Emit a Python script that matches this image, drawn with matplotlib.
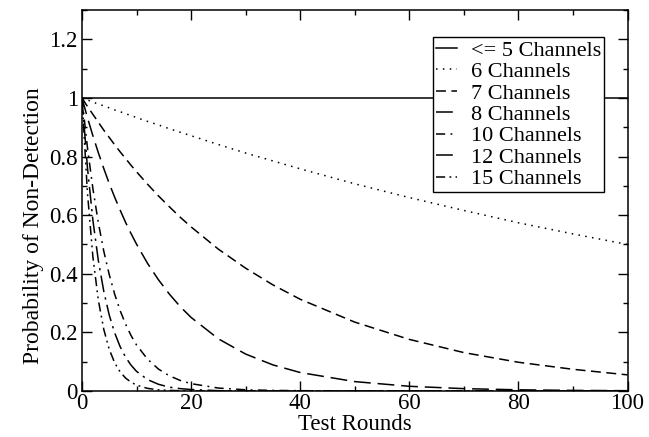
import matplotlib
matplotlib.use("Agg")
import matplotlib.pyplot as plt
from matplotlib.ticker import MultipleLocator

plt.rcParams['font.family'] = ['Liberation Serif', 'DejaVu Serif']

rounds = [0, 1, 2, 3, 4, 5, 6, 7, 8, 9, 10, 12, 14, 16, 18, 20,
          25, 30, 35, 40, 50, 60, 70, 80, 90, 100]

# probability of non-detection per channel count
p_le5 = [1.0] * len(rounds)
p_6 = [1.0, 0.993, 0.986, 0.979, 0.973, 0.966, 0.959, 0.953, 0.946, 0.940,
       0.933, 0.920, 0.908, 0.895, 0.883, 0.871, 0.841, 0.812, 0.785, 0.758,
       0.707, 0.660, 0.616, 0.574, 0.536, 0.500]
p_7 = [1.0, 0.971, 0.944, 0.917, 0.890, 0.865, 0.840, 0.816, 0.793, 0.770,
       0.748, 0.706, 0.666, 0.629, 0.593, 0.560, 0.484, 0.419, 0.362, 0.313,
       0.235, 0.176, 0.131, 0.098, 0.074, 0.055]
p_8 = [1.0, 0.933, 0.871, 0.813, 0.759, 0.708, 0.661, 0.617, 0.575, 0.537,
       0.501, 0.436, 0.380, 0.331, 0.288, 0.251, 0.178, 0.126, 0.089, 0.063,
       0.032, 0.016, 0.008, 0.004, 0.002, 0.001]
p_10 = [1.0, 0.831, 0.691, 0.574, 0.477, 0.397, 0.330, 0.274, 0.228, 0.189,
        0.157, 0.109, 0.075, 0.052, 0.036, 0.025, 0.010, 0.004, 0.002, 0.001,
        0.0, 0.0, 0.0, 0.0, 0.0, 0.0]
p_12 = [1.0, 0.763, 0.583, 0.445, 0.340, 0.259, 0.198, 0.151, 0.115, 0.088,
        0.067, 0.039, 0.023, 0.013, 0.008, 0.005, 0.001, 0.0, 0.0, 0.0,
        0.0, 0.0, 0.0, 0.0, 0.0, 0.0]
p_15 = [1.0, 0.677, 0.458, 0.310, 0.210, 0.142, 0.096, 0.065, 0.044, 0.030,
        0.020, 0.009, 0.004, 0.002, 0.001, 0.0, 0.0, 0.0, 0.0, 0.0,
        0.0, 0.0, 0.0, 0.0, 0.0, 0.0]

labels = ["<= 5 Channels", "6 Channels", "7 Channels", "8 Channels",
          "10 Channels", "12 Channels", "15 Channels"]
series = [p_le5, p_6, p_7, p_8, p_10, p_12, p_15]
styles = ['-', (0, (1, 3.5)), (0, (6.5, 3.6)), (0, (11, 4.5)),
          (0, (6, 3.5, 1.2, 3.5)), (0, (11, 3.5, 1.5, 3.5)),
          (0, (6, 2.8, 1.2, 2.8, 1.2, 2.8))]

fig = plt.figure(figsize=(6.49, 4.37), dpi=100)
ax = fig.add_axes([0.1263, 0.1053, 0.8406, 0.8718])

for ys, lab, ls in zip(series, labels, styles):
    ax.plot(rounds, ys, color='black', linewidth=1.1, linestyle=ls, label=lab)

ax.set_xlim(0, 100)
ax.set_ylim(0, 1.3)
ax.xaxis.set_major_locator(MultipleLocator(20))
ax.xaxis.set_minor_locator(MultipleLocator(10))
ax.yaxis.set_minor_locator(MultipleLocator(0.1))
ax.set_yticks([0, 0.2, 0.4, 0.6, 0.8, 1.0, 1.2])
ax.set_yticklabels(["0", "0.2", "0.4", "0.6", "0.8", "1", "1.2"])

ax.tick_params(which='both', direction='in', top=True, right=True,
               labelsize=16.5, width=1.0)
ax.tick_params(which='major', length=7.5)
ax.tick_params(axis='x', which='major', pad=1.5)
ax.tick_params(axis='y', which='major', pad=3)
ax.tick_params(which='minor', length=3.8)
for s in ax.spines.values():
    s.set_linewidth(1.1)

# x label sits right at the figure bottom, as in the original
fig.text(0.547, 0.004, "Test Rounds", fontsize=16.5, ha='center', va='bottom')
ax.set_ylabel("Probability of Non-Detection", fontsize=17)
ax.yaxis.set_label_coords(-0.07, 0.435)

leg = ax.legend(loc='upper right', bbox_to_anchor=(0.957, 0.928),
                borderaxespad=0, fontsize=16, handlelength=0.95,
                handletextpad=0.65, labelspacing=0.04, borderpad=0.12,
                fancybox=False, framealpha=1, edgecolor='black')
leg.get_frame().set_linewidth(1.0)

fig.savefig("out.png", dpi=100)
